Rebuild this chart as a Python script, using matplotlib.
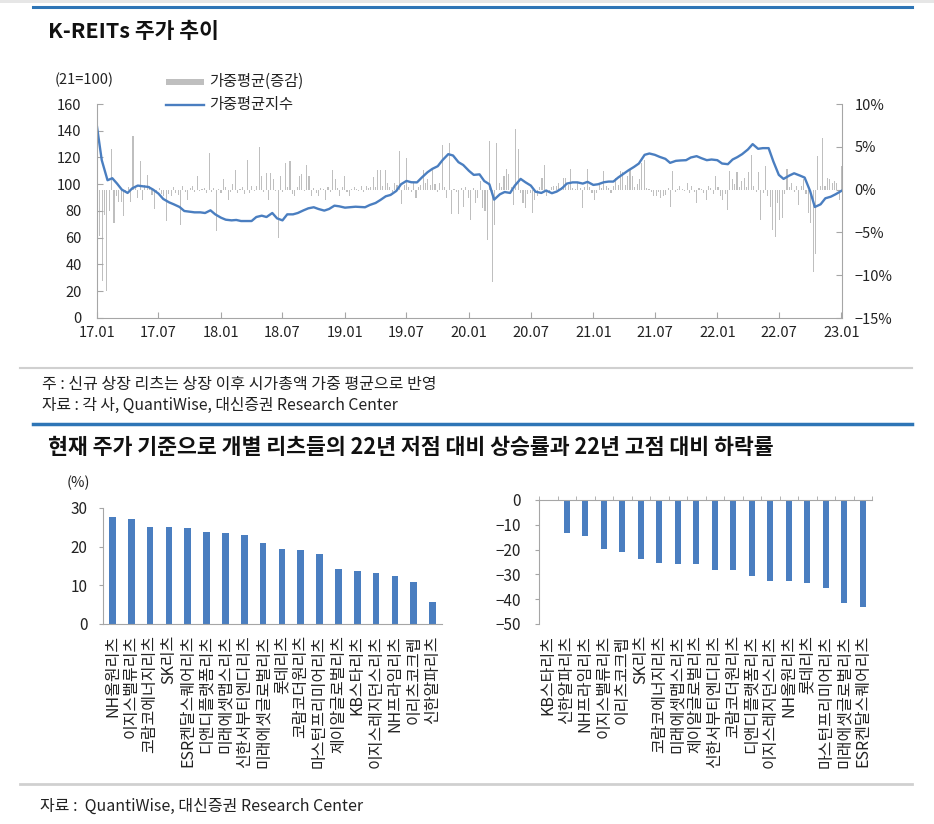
import numpy as np
import pandas as pd
import matplotlib
matplotlib.use("Agg")
import matplotlib.pyplot as plt
import matplotlib.dates as mdates
from matplotlib.ticker import FuncFormatter
from matplotlib.lines import Line2D
from matplotlib.patches import Rectangle

plt.rcParams['font.family'] = ['Noto Sans CJK KR', 'DejaVu Sans']

# weighted average index (21=100), semi-monthly readings 17.01 ~ 23.01
index_values = [
    143, 118, 103, 104.5, 100.5, 96, 93.5, 97, 99, 98.5,
    98, 96, 93, 89, 86.5, 85, 83, 80, 79.5, 79,
    79, 78.5, 80.5, 77.5, 75, 73.5, 73, 73.3, 72.5, 72.5,
    72.5, 75.5, 76.5, 75.5, 78.5, 74.5, 73, 77.5, 77.5, 78.5,
    80.5, 82, 82.8, 81.5, 80.3, 81.5, 84, 83.5, 82.5, 82.8,
    83.2, 83, 82.8, 84.5, 86, 88.2, 91, 92, 95, 100,
    102.5, 101.5, 101.4, 105, 109, 111.5, 113.5, 118, 122.5, 121.5,
    116.5, 114.4, 110, 107, 107.4, 102.4, 100, 88.5, 92.5, 94.2,
    93.5, 99, 104, 101.5, 99, 94.4, 93.5, 95.3, 93.3, 94.5,
    97, 100.5, 101.4, 101.4, 100.5, 101.8, 99.5, 100, 101.5, 102,
    102, 105, 108, 110.5, 113, 115.5, 122, 123, 122, 120.5,
    119, 116, 117.5, 117.8, 118, 120, 121, 119.5, 118, 118.5,
    118, 115.5, 115, 118.5, 120.3, 122.5, 126, 130, 126.5, 127,
    127, 117, 107, 104, 106.5, 108.2, 106.5, 105, 95, 83,
    85, 89.5, 90.7, 92.5, 95,
]
index_dates = pd.date_range("2017-01-01", periods=len(index_values), freq="SMS")

# weekly change of the weighted average (%)
chg_values = [
    -0.8, -5.4, -10.7, -3.0, -11.8, -2.5, 4.8, -3.9, -0.8, -1.5,
    -1.4, -3.1, -0.4, 0.3, -1.4, 6.3, 0.4, -1.0, 3.3, -1.2,
    0.5, 1.7, 0.4, -0.6, -2.3, -0.3, 0.2, -0.5, -0.8, -3.7,
    -0.5, -0.8, 0.3, -0.4, -0.6, -4.1, 0.4, -0.3, -1.2, 0.2,
    0.4, -0.3, 1.6, -0.2, 0.1, 0.2, -0.4, 4.3, -0.3, 0.2,
    -4.8, 0.1, -0.4, 1.2, 0.3, -1.2, -0.3, 0.6, 2.3, -0.4,
    0.1, 0.3, -0.5, 3.5, -0.4, 0.4, -0.2, 0.4, 5.0, 1.6,
    -0.3, 1.9, -1.2, 1.9, 1.2, -0.2, -5.6, 1.6, -0.3, 3.1,
    0.3, 3.3, -0.5, -0.8, 0.3, 1.6, 1.8, -0.2, 2.9, 1.6,
    -0.8, 0.2, -0.4, -0.8, 0.2, 0.1, -1.2, 0.3, -0.3, 2.3,
    1.2, 0.2, -0.8, 0.3, 1.6, -0.3, -0.8, 0.1, 0.3, 0.1,
    -0.2, 0.4, -0.3, 0.4, 0.2, 0.3, 1.5, 0.3, 2.3, 2.3,
    0.4, 2.3, 0.8, 0.3, -0.3, 0.8, 0.5, 4.5, -1.7, 0.5,
    3.7, 0.3, -0.3, 0.8, -1.0, 0.3, 0.5, 2.3, 0.8, 1.2,
    0.5, 2.3, 0.6, -0.3, 0.8, 5.2, 0.3, -1.0, 5.4, -2.9,
    0.1, -0.3, -2.9, 0.2, -2.0, 0.3, -1.0, -3.5, 0.2, -1.6,
    -1.0, 1.0, -2.2, -2.5, -5.9, 5.7, -10.8, -4.1, 5.5, 0.8,
    0.3, 1.6, 2.4, 1.8, 0.3, -1.8, 7.1, 4.8, -0.4, -1.6,
    -2.2, -0.5, -0.4, -2.7, -1.2, -0.8, 0.3, 1.4, 2.9, -0.8,
    -0.2, 0.3, 0.4, 0.4, 0.8, 0.3, 1.4, 1.4, 0.5, 2.4,
    0.2, 0.1, 0.8, 0.2, -2.2, 0.3, 2.4, 0.3, -0.4, -1.2,
    -0.4, 0.6, 0.2, 2.2, 0.4, 0.2, -0.4, 0.4, 1.4, 0.5,
    2.2, 2.0, 0.5, 1.6, 2.4, 1.6, 0.3, 0.6, 1.2, 3.1,
    3.5, 0.2, 0.1, -0.3, -0.8, -0.8, -0.3, -1.0, -0.8, -0.6,
    0.2, -2.0, 2.2, -0.3, 0.1, 0.4, 0.1, -0.2, 0.8, -0.4,
    0.4, -0.3, -1.6, 0.2, 0.1, -0.4, -1.2, 0.4, 0.2, -0.5,
    1.6, 0.3, -0.8, -1.2, -0.5, -2.4, 2.2, 1.2, 0.6, 2.0,
    0.3, 1.0, 1.4, 0.3, 2.0, 4.1, 0.4, -0.3, 2.0, -3.5,
    -0.4, 2.7, -0.8, -2.0, -4.7, -5.5, -1.6, -3.5, -3.3, -0.5,
    2.4, 0.3, 0.8, -0.3, 0.4, -1.8, 0.4, 1.2, -0.5, -2.7,
    -3.9, -9.6, -7.5, 3.9, 0.4, 6.0, 0.4, 1.4, 1.2, 0.8,
    1.0, 0.8, -1.2, 2.7,
]
chg_dates = pd.date_range("2017-01-02", periods=len(chg_values), freq="7D")

# rise from 22 low (%)
rise_names = ["NH올원리츠", "이지스밸류리츠", "코람코에너지리츠", "SK리츠", "ESR켄달스퀘어리츠",
              "디앤디플랫폼리츠", "미래에셋맵스리츠", "신한서부티엔디리츠", "미래에셋글로벌리츠",
              "롯데리츠", "코람코더원리츠", "마스턴프리미어리츠", "제이알글로벌리츠", "KB스타리츠",
              "이지스레지던스리츠", "NH프라임리츠", "이리츠코크렙", "신한알파리츠"]
rise_values = [27.8, 27.1, 25.2, 25.0, 24.9, 23.7, 23.5, 23.0, 20.9,
               19.5, 19.1, 18.1, 14.1, 13.7, 13.2, 12.5, 10.8, 5.7]

# fall from 22 high (%)
fall_names = ["KB스타리츠", "신한알파리츠", "NH프라임리츠", "이지스밸류리츠", "이리츠코크렙",
              "SK리츠", "코람코에너지리츠", "미래에셋맵스리츠", "제이알글로벌리츠",
              "신한서부티엔디리츠", "코람코더원리츠", "디앤디플랫폼리츠", "이지스레지던스리츠",
              "NH올원리츠", "롯데리츠", "마스턴프리미어리츠", "미래에셋글로벌리츠", "ESR켄달스퀘어리츠"]
fall_values = [0.0, -13.4, -14.4, -19.8, -21.1, -23.7, -25.5, -25.8, -25.8,
               -28.1, -28.1, -30.8, -32.5, -32.8, -33.5, -35.4, -41.7, -43.0]

W, H = 934, 824
BLUE = "#4A7EC0"
GRAY_BAR = "#BFBFBF"
SPINE = "#A6A6A6"
TXT = "#222222"


def fx(x):
    return x / W


def fy(y):
    return 1 - y / H


def rect(x0, y0, x1, y1):
    return [fx(x0), fy(y1), (x1 - x0) / W, (y1 - y0) / H]


def hline(fig, x0, x1, y, color, lw):
    fig.add_artist(Line2D([fx(x0), fx(x1)], [fy(y), fy(y)], color=color, lw=lw,
                          transform=fig.transFigure, zorder=5))


def minus_fmt(fmt):
    return FuncFormatter(lambda v, p: fmt.format(abs(v)) if v >= 0 else "\u2212" + fmt.format(abs(v)))


fig = plt.figure(figsize=(W / 100, H / 100), dpi=100)

# ---- page decorations
fig.add_artist(Rectangle((0, fy(3)), 1, 3 / H, color="#E6E6E6", transform=fig.transFigure, lw=0))
hline(fig, 33, 912, 7, "#2E75B6", 2.2)
fig.text(fx(48), fy(32), "K-REITs 주가 추이", fontsize=15.5, fontweight="bold", va="center", color="#111111")

# ---- top chart
ax = fig.add_axes(rect(97, 104, 842, 318))
ax2 = ax.twinx()
ax2.bar(chg_dates, chg_values, width=3.2, color=GRAY_BAR, lw=0)
ax.plot(index_dates, index_values, color=BLUE, lw=1.7)
ax.set_zorder(ax2.get_zorder() + 1)
ax.patch.set_visible(False)

ax.set_xlim(pd.Timestamp("2017-01-01"), pd.Timestamp("2023-01-03"))
ax.set_ylim(0, 160)
ax.set_yticks(range(0, 161, 20))
ax2.set_ylim(-15, 10)
ax2.set_yticks([-15, -10, -5, 0, 5, 10])
ax2.yaxis.set_major_formatter(minus_fmt("{:.0f}%"))
ax.xaxis.set_major_locator(mdates.MonthLocator(bymonth=[1, 7]))
ax.xaxis.set_major_formatter(mdates.DateFormatter("%y.%m"))

for a in (ax, ax2):
    for s in a.spines.values():
        s.set_color(SPINE)
    a.spines["top"].set_visible(False)
ax.spines["right"].set_visible(False)
ax2.spines["left"].set_visible(False)
ax2.spines["bottom"].set_visible(False)
ax.tick_params(axis="y", direction="in", length=4, pad=11, labelsize=10.5, colors=SPINE, labelcolor=TXT)
ax.tick_params(axis="x", direction="in", length=4, pad=6, labelsize=10.5, colors=SPINE, labelcolor=TXT)
ax2.tick_params(axis="y", direction="in", length=4, pad=9, labelsize=10.5, colors=SPINE, labelcolor=TXT)

fig.text(fx(55), fy(80), "(21=100)", fontsize=10.5, va="center", color=TXT)
fig.add_artist(Rectangle((fx(166), fy(85)), 38 / W, 6 / H, color=GRAY_BAR, lw=0, transform=fig.transFigure))
fig.text(fx(209), fy(81), "가중평균(증감)", fontsize=11, va="center", color=TXT)
fig.add_artist(Line2D([fx(166), fx(204)], [fy(105), fy(105)], color=BLUE, lw=1.7, transform=fig.transFigure))
fig.text(fx(209), fy(105), "가중평균지수", fontsize=11, va="center", color=TXT)

hline(fig, 20, 912, 368, "#D0D0D0", 1.5)
fig.text(fx(42), fy(384), "주 : 신규 상장 리츠는 상장 이후 시가총액 가중 평균으로 반영", fontsize=11.5, va="center", color=TXT)
fig.text(fx(42), fy(405), "자료 : 각 사, QuantiWise, 대신증권 Research Center", fontsize=11.4, va="center", color=TXT)

hline(fig, 33, 912, 424, "#2E75B6", 2.5)
fig.text(fx(48), fy(447), "현재 주가 기준으로 개별 리츠들의 22년 저점 대비 상승률과 22년 고점 대비 하락률",
         fontsize=15.6, fontweight="bold", va="center", color="#111111")

# ---- bottom left: rise
axL = fig.add_axes(rect(103, 508, 442, 624))
xl = np.arange(len(rise_values))
axL.bar(xl, rise_values, width=0.35, color=BLUE, lw=0)
axL.set_xlim(-0.5, len(rise_values) - 0.5)
axL.set_ylim(0, 30)
axL.set_yticks([0, 10, 20, 30])
axL.set_xticks(xl)
axL.set_xticklabels(rise_names, rotation=90, fontsize=11.5, color=TXT)
for s in ("top", "right"):
    axL.spines[s].set_visible(False)
for s in ("left", "bottom"):
    axL.spines[s].set_color(SPINE)
axL.tick_params(axis="x", length=0, pad=8)
axL.tick_params(axis="y", direction="out", length=3, pad=8, labelsize=11, colors=SPINE, labelcolor=TXT)
fig.text(fx(67), fy(483), "(%)", fontsize=10.5, va="center", color=TXT)

# ---- bottom right: fall
axR = fig.add_axes(rect(539, 500, 872, 624))
xr = np.arange(len(fall_values))
axR.bar(xr, fall_values, width=0.35, color=BLUE, lw=0)
axR.set_xlim(-0.5, len(fall_values) - 0.5)
axR.set_ylim(-50, 0)
axR.set_yticks(range(-50, 1, 10))
axR.yaxis.set_major_formatter(minus_fmt("{:.0f}"))
axR.set_xticks(xr)
axR.set_xticklabels(fall_names, rotation=90, fontsize=11.5, color=TXT)
axR.set_xticks(np.arange(-0.5, len(fall_values), 1), minor=True)
for s in ("bottom", "right"):
    axR.spines[s].set_visible(False)
for s in ("left", "top"):
    axR.spines[s].set_color(SPINE)
axR.tick_params(axis="x", which="major", length=0, pad=8)
axR.tick_params(axis="x", which="minor", top=True, bottom=False, direction="out", length=3, colors=SPINE)
axR.tick_params(axis="y", direction="out", length=3, pad=10, labelsize=11, colors=SPINE, labelcolor=TXT)

hline(fig, 20, 912, 784, "#D0D0D0", 2)
fig.text(fx(40), fy(806), "자료 :  QuantiWise, 대신증권 Research Center", fontsize=11.5, va="center", color=TXT)

fig.savefig("out.png", dpi=100)
